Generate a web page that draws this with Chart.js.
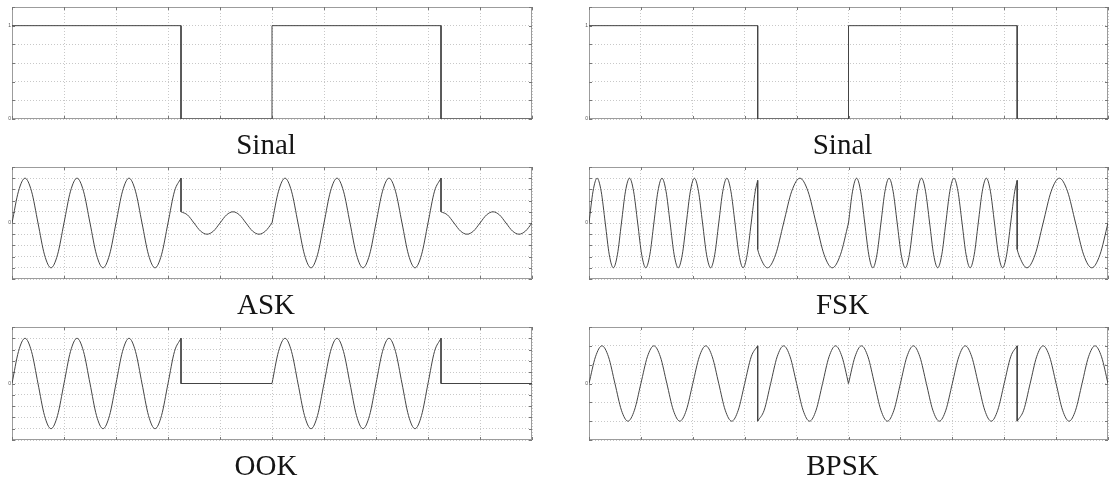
<!DOCTYPE html>
<html>
<head>
<meta charset="utf-8">
<script src="https://cdn.jsdelivr.net/npm/chart.js@4.4.1/dist/chart.umd.min.js"></script>
<style>
html,body{margin:0;padding:0;background:#fff;}
#wrap{position:relative;width:1109px;height:483px;overflow:hidden;background:#fff;}
#wrap canvas{position:absolute;}
</style>
</head>
<body>
<div id="wrap"></div>
<script>
// ---------------- data ----------------
const TITLES = ['Sinal', 'Sinal', 'ASK', 'FSK', 'OOK', 'BPSK'];

// bit stream (square signal)
const SINAL_T = [0, 3.25, 3.25, 5, 5, 8.25, 8.25, 10];
const SINAL_Y = [1, 1, 0, 0, 1, 1, 0, 0];

// sample instants (1/8 carrier period) for each bit interval
const T1A = [0,0.125,0.25,0.375,0.5,0.625,0.75,0.875,1,1.125,1.25,1.375,1.5,1.625,1.75,1.875,2,2.125,2.25,2.375,2.5,2.625,2.75,2.875,3,3.125,3.25];
const T0A = [3.25,3.375,3.5,3.625,3.75,3.875,4,4.125,4.25,4.375,4.5,4.625,4.75,4.875,5];
const T1B = [5,5.125,5.25,5.375,5.5,5.625,5.75,5.875,6,6.125,6.25,6.375,6.5,6.625,6.75,6.875,7,7.125,7.25,7.375,7.5,7.625,7.75,7.875,8,8.125,8.25];
const T0B = [8.25,8.375,8.5,8.625,8.75,8.875,9,9.125,9.25,9.375,9.5,9.625,9.75,9.875,10];

// carrier values during "1" bits (ASK / OOK / BPSK)
const CARRIER = [0,0.71,1,0.71,0,-0.71,-1,-0.71,0,0.71,1,0.71,0,-0.71,-1,-0.71,0,0.71,1,0.71,0,-0.71,-1,-0.71,0,0.71,1];
// values during "0" bits
const ASK_LOW  = [0.25,0.18,0,-0.18,-0.25,-0.18,0,0.18,0.25,0.18,0,-0.18,-0.25,-0.18,0];
const BPSK_LOW = [-1,-0.71,0,0.71,1,0.71,0,-0.71,-1,-0.71,0,0.71,1,0.71,0];
const OOK_LOW_TA = [3.25, 5];
const OOK_LOW_TB = [8.25, 10];
const OOK_LOW = [0, 0];

// jumps at bit transitions 1 -> 0
const JUMP_TA = [3.25, 3.25];
const JUMP_TB = [8.25, 8.25];
const ASK_JUMP  = [1, 0.25];
const OOK_JUMP  = [1, 0];
const BPSK_JUMP = [1, -1];
const FSK_JUMP  = [0.95, -0.59];

// FSK: fast tone during "1" bits
const FSK_HTA = [0,0.078,0.156,0.234,0.313,0.391,0.469,0.547,0.625,0.703,0.781,0.859,0.938,1.016,1.094,1.172,1.25,1.328,1.406,1.484,1.563,1.641,1.719,1.797,1.875,1.953,2.031,2.109,2.188,2.266,2.344,2.422,2.5,2.578,2.656,2.734,2.813,2.891,2.969,3.047,3.125,3.203,3.25];
const FSK_HTB = [5,5.078,5.156,5.234,5.313,5.391,5.469,5.547,5.625,5.703,5.781,5.859,5.938,6.016,6.094,6.172,6.25,6.328,6.406,6.484,6.563,6.641,6.719,6.797,6.875,6.953,7.031,7.109,7.188,7.266,7.344,7.422,7.5,7.578,7.656,7.734,7.813,7.891,7.969,8.047,8.125,8.203,8.25];
const FSK_HIGH = [0,0.71,1,0.71,0,-0.71,-1,-0.71, 0,0.71,1,0.71,0,-0.71,-1,-0.71, 0,0.71,1,0.71,0,-0.71,-1,-0.71, 0,0.71,1,0.71,0,-0.71,-1,-0.71, 0,0.71,1,0.71,0,-0.71,-1,-0.71, 0,0.71, 0.95];
// FSK: slow tone during "0" bits
const FSK_LTA = [3.25,3.281,3.438,3.594,3.75,3.906,4.063,4.219,4.375,4.531,4.688,4.844,5];
const FSK_LTB = [8.25,8.281,8.438,8.594,8.75,8.906,9.063,9.219,9.375,9.531,9.688,9.844,10];
const FSK_LOW = [-0.59,-0.71,-1,-0.71,0,0.71,1,0.71,0,-0.71,-1,-0.71,0];

// axes
const X_MIN = 0, X_MAX = 10, X_STEP = 1;
const SQ_Y = {min: 0, max: 1.2, step: 0.2};
const WAVE_Y = {min: -1.25, max: 1.25, step: 0.25};
const BPSK_Y = {min: -1.5, max: 1.5, step: 0.5};
const SQ_LABELS = ['0', '1'];
const WAVE_LABELS = ['0'];

// ---------------- drawing ----------------
const LINE = '#444444';
function seg(ts, ys, smooth) {
  return {
    data: ts.map((t, i) => ({x: t, y: ys[i]})),
    borderColor: LINE, borderWidth: 1, pointRadius: 0, fill: false,
    tension: smooth ? 0.4 : 0,
    cubicInterpolationMode: smooth ? 'monotone' : 'default'
  };
}

const panels = [
  {title: TITLES[0], y: SQ_Y, labels: SQ_LABELS, ds: [seg(SINAL_T, SINAL_Y, false)]},
  {title: TITLES[1], y: SQ_Y, labels: SQ_LABELS, ds: [seg(SINAL_T, SINAL_Y, false)]},
  {title: TITLES[2], y: WAVE_Y, labels: WAVE_LABELS, ds: [
    seg(T1A, CARRIER, true), seg(JUMP_TA, ASK_JUMP, false), seg(T0A, ASK_LOW, true),
    seg(T1B, CARRIER, true), seg(JUMP_TB, ASK_JUMP, false), seg(T0B, ASK_LOW, true)]},
  {title: TITLES[3], y: WAVE_Y, labels: WAVE_LABELS, ds: [
    seg(FSK_HTA, FSK_HIGH, true), seg(JUMP_TA, FSK_JUMP, false), seg(FSK_LTA, FSK_LOW, true),
    seg(FSK_HTB, FSK_HIGH, true), seg(JUMP_TB, FSK_JUMP, false), seg(FSK_LTB, FSK_LOW, true)]},
  {title: TITLES[4], y: WAVE_Y, labels: WAVE_LABELS, ds: [
    seg(T1A, CARRIER, true), seg(JUMP_TA, OOK_JUMP, false), seg(OOK_LOW_TA, OOK_LOW, false),
    seg(T1B, CARRIER, true), seg(JUMP_TB, OOK_JUMP, false), seg(OOK_LOW_TB, OOK_LOW, false)]},
  {title: TITLES[5], y: BPSK_Y, labels: WAVE_LABELS, ds: [
    seg(T1A, CARRIER, true), seg(JUMP_TA, BPSK_JUMP, false), seg(T0A, BPSK_LOW, true),
    seg(T1B, CARRIER, true), seg(JUMP_TB, BPSK_JUMP, false), seg(T0B, BPSK_LOW, true)]}
];

const COLS = [{left: 0, width: 534, padRight: 2}, {left: 577, width: 532, padRight: 1}];
const ROWS = [{top: 0, height: 161}, {top: 160, height: 161}, {top: 320, height: 162}];

const boxPlugin = {
  id: 'matlabBox',
  beforeDatasetsDraw(chart) {
    const {ctx, chartArea: a, scales} = chart;
    ctx.save();
    ctx.lineWidth = 1;
    ctx.strokeStyle = '#9c9c9c';
    ctx.strokeRect(a.left + 0.5, a.top + 0.5, a.right - a.left - 1, a.bottom - a.top - 1);
    ctx.strokeStyle = '#777777';
    ctx.beginPath();
    scales.x.ticks.forEach(t => {
      const px = Math.round(scales.x.getPixelForValue(t.value)) + 0.5;
      ctx.moveTo(px, a.bottom); ctx.lineTo(px, a.bottom - 3);
      ctx.moveTo(px, a.top); ctx.lineTo(px, a.top + 3);
    });
    scales.y.ticks.forEach(t => {
      const py = Math.round(scales.y.getPixelForValue(t.value)) + 0.5;
      ctx.moveTo(a.left, py); ctx.lineTo(a.left + 3, py);
      ctx.moveTo(a.right, py); ctx.lineTo(a.right - 3, py);
    });
    ctx.stroke();
    ctx.restore();
  }
};

const wrap = document.getElementById('wrap');
panels.forEach((p, i) => {
  const col = COLS[i % 2], row = ROWS[Math.floor(i / 2)];
  const cv = document.createElement('canvas');
  cv.width = col.width; cv.height = row.height;
  cv.style.left = col.left + 'px'; cv.style.top = row.top + 'px';
  cv.style.width = col.width + 'px'; cv.style.height = row.height + 'px';
  wrap.appendChild(cv);
  new Chart(cv, {
    type: 'line',
    data: {datasets: p.ds},
    plugins: [boxPlugin],
    options: {
      responsive: false, animation: false, devicePixelRatio: 1, events: [],
      layout: {padding: {left: 0, right: col.padRight, top: 7, bottom: 0}},
      plugins: {
        legend: {display: false}, tooltip: {enabled: false},
        title: {display: true, text: p.title, position: 'bottom', color: '#151515',
          font: {family: 'Liberation Serif', size: 29, weight: 'normal', lineHeight: 1},
          padding: {top: 13, bottom: 0}}
      },
      scales: {
        x: {type: 'linear', min: X_MIN, max: X_MAX,
          ticks: {stepSize: X_STEP, display: false, autoSkip: false},
          grid: {color: '#c8c8c8', lineWidth: 1, drawTicks: false},
          border: {display: false, dash: [1, 2]},
          afterFit: s => { s.height = 0; }},
        y: {type: 'linear', min: p.y.min, max: p.y.max,
          ticks: {stepSize: p.y.step, autoSkip: false, padding: 1, color: '#555',
            font: {family: 'Liberation Sans', size: 5},
            callback: v => { const s = String(Number(v.toFixed(3))); return p.labels.includes(s) ? s : ''; }},
          grid: {color: '#c8c8c8', lineWidth: 1, drawTicks: false},
          border: {display: false, dash: [1, 2]},
          afterFit: s => { s.width = 12; }}
      }
    }
  });
});
</script>
</body>
</html>
